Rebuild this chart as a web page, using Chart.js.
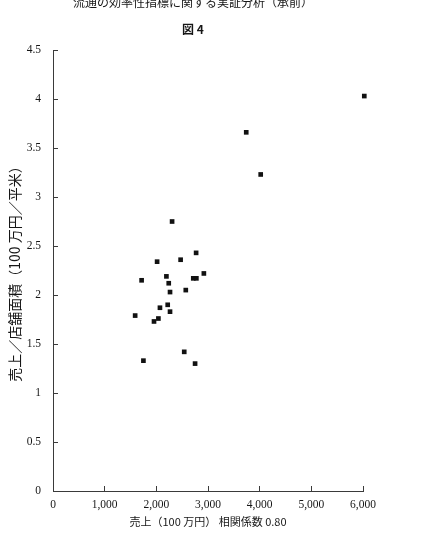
<!DOCTYPE html>
<html lang="ja">
<head>
<meta charset="utf-8">
<title>図 4</title>
<script src="https://cdn.jsdelivr.net/npm/chart.js@4/dist/chart.umd.min.js"></script>
<style>
    html, body {
        margin: 0;
        padding: 0;
        background: #ffffff;
        overflow: hidden;
    }
    #chart-wrap {
        position: absolute;
        left: 0;
        top: -12px;
        width: 426px;
        height: 547px;
    }
</style>
</head>
<body>
<div id="chart-wrap">
    <canvas id="scatter-chart" width="426" height="547"></canvas>
</div>
<script>
// Chart texts
const chartTitle = '流通の効率性指標に関する実証分析（承前）';
const chartSubtitle = '図 4';
const xAxisTitle = '売上（100 万円） 相関係数 0.80';
const yAxisTitle = '売上／店舗面積（100 万円／平米）';

// Tick labels
const xTickLabels = ['0', '1,000', '2,000', '3,000', '4,000', '5,000', '6,000'];
const yTickLabels = ['0', '0.5', '1', '1.5', '2', '2.5', '3', '3.5', '4', '4.5'];

// Sales (100 million yen)
const salesValues = [
    2305, 2770, 2015, 2470, 2920, 1715, 2195, 2240,
    2715, 2775, 2265, 2570, 2220, 2070, 2265, 1590,
    2040, 1955, 2540, 1750, 2750, 6025, 3740, 4020
];

// Sales per floor area (100 million yen / m2)
const salesPerArea = [
    2.75, 2.43, 2.34, 2.36, 2.22, 2.15, 2.19, 2.12,
    2.17, 2.17, 2.03, 2.05, 1.90, 1.87, 1.83, 1.79,
    1.76, 1.73, 1.42, 1.33, 1.30, 4.03, 3.66, 3.23
];

const serifFont = "'Liberation Serif', 'DejaVu Serif', serif";
const cjkFont = "'Noto Sans CJK JP', 'Noto Sans', sans-serif";
const inkColor = '#161616';
const axisColor = '#3a3a3a';

// Build point list from the two series
function buildPoints() {
    const points = [];
    for (let i = 0; i < salesValues.length; i++) {
        points.push({ x: salesValues[i], y: salesPerArea[i] });
    }
    return points;
}

const ctx = document.getElementById('scatter-chart').getContext('2d');

const scatterChart = new Chart(ctx, {
    type: 'scatter',
    data: {
        datasets: [{
            label: 'stores',
            data: buildPoints(),
            pointStyle: 'rect',
            pointRadius: 3.3,
            pointHoverRadius: 3.3,
            backgroundColor: '#111111',
            borderWidth: 0,
            clip: false
        }]
    },
    options: {
        responsive: false,
        animation: false,
        devicePixelRatio: 1,
        layout: {
            padding: { left: 23, right: 63, top: 0, bottom: 0 }
        },
        plugins: {
            legend: { display: false },
            tooltip: { enabled: false },
            title: {
                display: true,
                text: chartTitle,
                color: inkColor,
                font: { family: cjkFont, size: 12, weight: 'normal' },
                padding: { top: 6.8, bottom: 12.6 }
            },
            subtitle: {
                display: true,
                text: chartSubtitle,
                color: inkColor,
                font: { family: cjkFont, size: 12, weight: 'bold' },
                padding: { top: 0, bottom: 13.8 }
            }
        },
        scales: {
            x: {
                type: 'linear',
                min: 0,
                max: 6000,
                afterFit: function(scale) {
                    scale.height = 44;
                },
                ticks: {
                    stepSize: 1000,
                    padding: 12.4,
                    color: inkColor,
                    font: { family: serifFont, size: 11.5 },
                    callback: function(value, index) {
                        return xTickLabels[index];
                    }
                },
                grid: {
                    display: true,
                    drawOnChartArea: false,
                    drawTicks: true,
                    tickLength: -5, // ticks point into the plot
                    tickColor: axisColor
                },
                border: {
                    display: true,
                    color: axisColor,
                    width: 1
                },
                title: {
                    display: true,
                    text: xAxisTitle,
                    color: inkColor,
                    font: { family: cjkFont, size: 11 },
                    padding: { top: 0, bottom: 6.4 }
                }
            },
            y: {
                type: 'linear',
                min: 0,
                max: 4.5,
                afterFit: function(scale) {
                    scale.width = 30;
                },
                ticks: {
                    stepSize: 0.5,
                    padding: 17,
                    color: inkColor,
                    font: { family: serifFont, size: 11.5 },
                    callback: function(value, index) {
                        return yTickLabels[index];
                    }
                },
                grid: {
                    display: true,
                    drawOnChartArea: false,
                    drawTicks: true,
                    tickLength: -5,
                    tickColor: axisColor
                },
                border: {
                    display: true,
                    color: axisColor,
                    width: 1
                },
                title: {
                    display: true,
                    text: yAxisTitle,
                    color: inkColor,
                    font: { family: cjkFont, size: 14 },
                    padding: { top: -16.4, bottom: 0 }
                }
            }
        }
    }
});
</script>
</body>
</html>
